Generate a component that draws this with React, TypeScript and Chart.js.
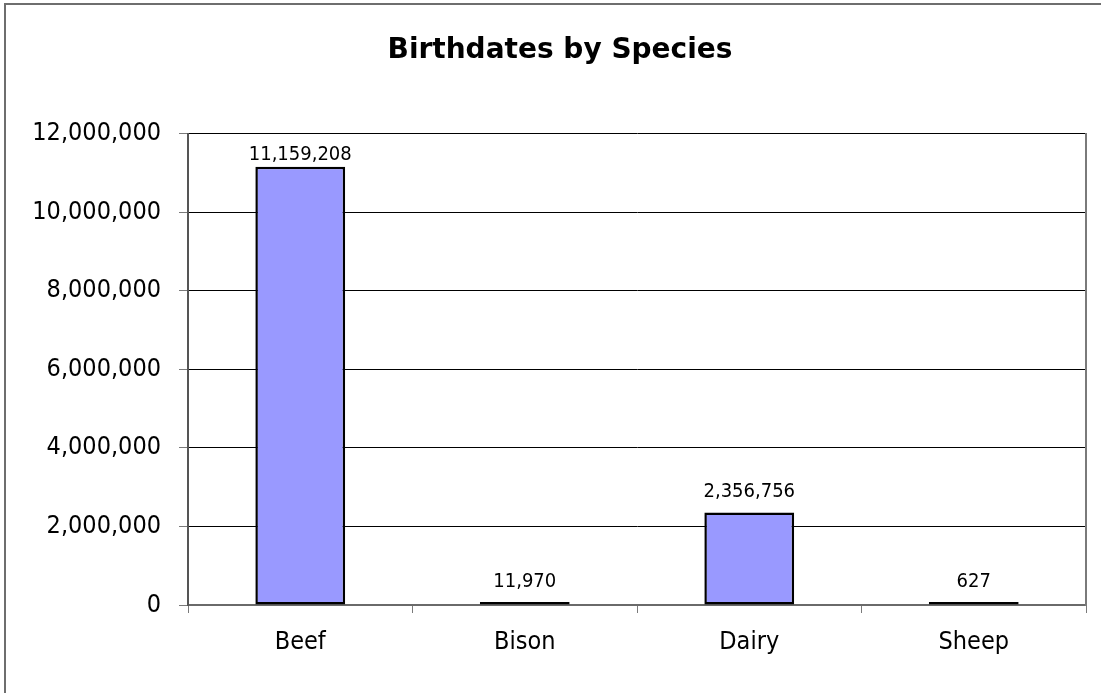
import React, { useEffect, useRef } from 'react';
import { Chart, registerables } from 'chart.js';

Chart.register(...registerables);

const chartTitle = 'Birthdates by Species';
const categories = ['Beef', 'Bison', 'Dairy', 'Sheep'];
const birthdates = [11159208, 11970, 2356756, 627];
const yMin = 0;
const yMax = 12000000;
const yStep = 2000000;

const FONT = '"DejaVu Sans Condensed", "DejaVu Sans", sans-serif';
const fmt = (v: number) => Number(v).toLocaleString('en-US');

const valueLabels = {
  id: 'valueLabels',
  afterDatasetsDraw(chart: any) {
    const { ctx, chartArea } = chart;
    const meta = chart.getDatasetMeta(0);
    const data = chart.data.datasets[0].data as number[];
    ctx.save();
    ctx.font = `20px ${FONT}`;
    ctx.fillStyle = '#000';
    ctx.textAlign = 'center';
    ctx.textBaseline = 'alphabetic';
    meta.data.forEach((bar: any, i: number) => {
      const y = Math.max(bar.y - 15, chartArea.top + 26);
      ctx.fillText(fmt(data[i]), bar.x, y);
    });
    ctx.restore();
  },
};

export default function App() {
  const ref = useRef<HTMLCanvasElement | null>(null);

  useEffect(() => {
    document.body.style.margin = '0';
    if (!ref.current) return;
    const chart = new Chart(ref.current, {
      type: 'bar',
      data: {
        labels: categories,
        datasets: [
          {
            data: birthdates,
            backgroundColor: '#9999FF',
            borderColor: '#000000',
            borderWidth: 2.5,
            borderSkipped: false,
            minBarLength: 3,
            barPercentage: 0.4,
            categoryPercentage: 1,
          },
        ],
      },
      options: {
        responsive: false,
        animation: false,
        layout: { padding: 0 },
        plugins: {
          legend: { display: false },
          tooltip: { enabled: false },
          title: {
            display: true,
            text: chartTitle,
            color: '#000',
            font: { family: '"DejaVu Sans", sans-serif', size: 28, weight: 'bold' },
            padding: { top: 34, bottom: 66 },
          },
        },
        scales: {
          x: {
            afterFit(scale: any) {
              scale.height = 88;
            },
            grid: {
              offset: true,
              drawOnChartArea: false,
              drawTicks: true,
              tickLength: 8,
              tickColor: '#7a7a7a',
              lineWidth: 1,
            },
            border: { display: true, color: '#6a6a6a', width: 2 },
            ticks: {
              color: '#000',
              font: { family: FONT, size: 25 },
              padding: 14,
              maxRotation: 0,
            },
          },
          y: {
            min: yMin,
            max: yMax,
            afterFit(scale: any) {
              scale.width = 188;
            },
            grid: {
              color: '#000000',
              lineWidth: 1,
              drawTicks: true,
              tickLength: 9,
              tickColor: '#7a7a7a',
            },
            border: { display: true, color: '#555555', width: 2 },
            ticks: {
              stepSize: yStep,
              color: '#000',
              font: { family: FONT, size: 25 },
              padding: 18,
              callback: (v: any) => fmt(v),
            },
          },
          y2: {
            position: 'right',
            min: yMin,
            max: yMax,
            afterFit(scale: any) {
              scale.width = 34;
            },
            grid: { drawOnChartArea: false, drawTicks: false },
            border: { display: true, color: '#7a7a7a', width: 2 },
            ticks: { display: false },
          },
        },
      },
      plugins: [valueLabels],
    });
    return () => chart.destroy();
  }, []);

  return (
    <div style={{ position: 'relative', width: 1101, height: 693, overflow: 'hidden', background: '#fff' }}>
      <div
        style={{
          position: 'absolute',
          left: 4,
          top: 3,
          width: 1200,
          height: 800,
          border: '2px solid #6e6e6e',
          boxSizing: 'border-box',
        }}
      />
      <canvas ref={ref} width={1120} height={693} style={{ position: 'absolute', left: 0, top: 0 }} />
    </div>
  );
}
